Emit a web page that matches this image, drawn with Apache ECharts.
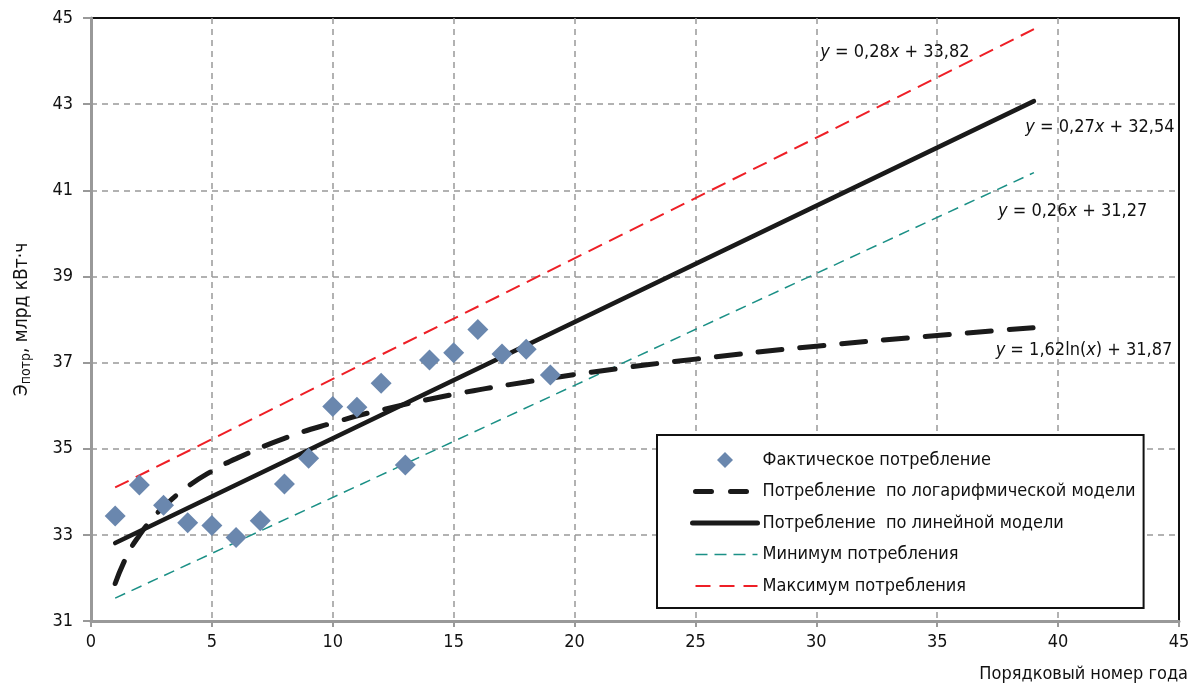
<!DOCTYPE html>
<html><head><meta charset="utf-8">
<script src="https://cdn.jsdelivr.net/npm/echarts@6/dist/echarts.min.js"></script>
<style>html,body{margin:0;padding:0;background:#fff}#c{width:1197px;height:688px}</style>
</head><body><div id="c"></div>
<script>
// Actual consumption (year number, value)
const years = [1,2,3,4,5,6,7,8,9,10,11,12,13,14,15,16,17,18,19];
const actual = [33.44,34.16,33.69,33.28,33.22,32.94,33.33,34.18,34.78,35.98,35.96,36.52,34.62,37.06,37.23,37.77,37.20,37.31,36.71];
// Log model curve points
const logX = [1,1.5,2,2.5,3,4,5,6,8,10,12,15,18,21,25,30,35,39];
const logY = [31.87,32.53,32.99,33.35,33.65,34.12,34.48,34.77,35.24,35.60,35.90,36.26,36.55,36.80,37.08,37.38,37.63,37.81];
// Linear trend end points
const linX = [1,39];
const linY = [32.81,43.07];
const minY = [31.53,41.41];
const maxY = [34.10,44.74];
// Axis ticks
const xTicks = [0,5,10,15,20,25,30,35,40,45];
const yTicks = [31,33,35,37,39,41,43,45];
const names = ['Фактическое потребление','Потребление  по логарифмической модели','Потребление  по линейной модели','Минимум потребления','Максимум потребления'];
// Equation annotations: [x, y] in data units, text
const eqPos = [[33.25,44.21],[41.73,42.47],[40.6,40.52],[41.07,37.29]];
const eqText = ['{i|y} = 0,28{i|x} + 33,82','{i|y} = 0,27{i|x} + 32,54','{i|y} = 0,26{i|x} + 31,27','{i|y} = 1,62ln({i|x}) + 31,87'];

const FONT = '"Liberation Sans Narrow","DejaVu Sans Condensed","Roboto",sans-serif';
const zip = (a,b)=>a.map((v,i)=>[v,b[i]]);

const C_MIN = '#1b9086', C_MAX = '#ee1f26', C_BLK = '#1a1a1a', C_PT = '#6a87ae';
const HIDE = {opacity:0, borderWidth:0};
const DIAMOND = 'path://M8,0L16,8L8,16L0,8Z';

const chart = echarts.init(document.getElementById('c'));
chart.setOption({
  animation:false,
  textStyle:{fontFamily:FONT},
  grid:{left:91, right:18, top:18, bottom:67, show:true, borderColor:'#111', borderWidth:2, backgroundColor:'transparent'},
  xAxis:{type:'value', min:xTicks[0], max:xTicks[xTicks.length-1], interval:5,
    axisLine:{show:true, onZero:false, lineStyle:{color:'#999', width:3}},
    axisTick:{show:true, length:6, lineStyle:{color:'#999', width:2}},
    axisLabel:{fontSize:18, color:'#111', margin:12, fontFamily:FONT},
    splitLine:{show:true, showMinLine:false, showMaxLine:false, lineStyle:{color:'#999', width:1.5, type:[6,5]}},
    name:'Порядковый номер года', nameLocation:'end', nameGap:9,
    nameTextStyle:{fontSize:18, color:'#111', align:'right', verticalAlign:'top', padding:[44,0,0,0], fontFamily:FONT}
  },
  yAxis:{type:'value', min:yTicks[0], max:yTicks[yTicks.length-1], interval:2,
    axisLine:{show:true, onZero:false, lineStyle:{color:'#999', width:3}},
    axisTick:{show:true, length:8, lineStyle:{color:'#999', width:2}},
    axisLabel:{fontSize:18, color:'#111', margin:18, fontFamily:FONT},
    splitLine:{show:true, showMinLine:false, showMaxLine:false, lineStyle:{color:'#999', width:1.5, type:[6,5]}},
    name:'{a|Э}{b|потр}{a|, млрд кВт·ч}', nameLocation:'middle', nameGap:58, nameRotate:90,
    nameTextStyle:{color:'#111', fontFamily:FONT, rich:{
      a:{fontSize:19, color:'#111', fontFamily:FONT},
      b:{fontSize:14, color:'#111', fontFamily:FONT, padding:[8,0,0,0]}}}
  },
  legend:{orient:'vertical', left:657, top:435, itemWidth:65, itemHeight:16, itemGap:13.5,
    symbolKeepAspect:true,
    padding:[16,8,13,33], borderColor:'#111', borderWidth:2, backgroundColor:'#fff',
    textStyle:{fontSize:18, color:'#111', fontFamily:FONT},
    data:[
      {name:names[0], icon:DIAMOND, symbolKeepAspect:true},
      {name:names[1], itemStyle:HIDE, lineStyle:{width:5, type:[16,19], cap:'round', dashOffset:-3}},
      {name:names[2], itemStyle:HIDE, lineStyle:{width:5, cap:'round'}},
      {name:names[3], itemStyle:HIDE, lineStyle:{width:1.5, type:[12,7]}},
      {name:names[4], itemStyle:HIDE, lineStyle:{width:2, type:[15,9]}}
    ]},
  series:[
    {name:names[3], type:'line', data:zip(linX,minY), symbol:'none', z:3,
      lineStyle:{color:C_MIN, width:1.5, type:[11,7]}, itemStyle:{color:C_MIN}},
    {name:names[4], type:'line', data:zip(linX,maxY), symbol:'none', z:3,
      lineStyle:{color:C_MAX, width:2, type:[15,8]}, itemStyle:{color:C_MAX}},
    {name:names[2], type:'line', data:zip(linX,linY), symbol:'none', z:4,
      lineStyle:{color:C_BLK, width:4.5, cap:'round'}, itemStyle:{color:C_BLK}},
    {name:names[1], type:'line', data:zip(logX,logY), symbol:'none', smooth:true, z:4,
      lineStyle:{color:C_BLK, width:5, type:[24,18], cap:'round'}, itemStyle:{color:C_BLK}},
    {name:names[0], type:'scatter', data:zip(years,actual), symbol:'diamond', symbolSize:21, z:5,
      itemStyle:{color:C_PT, opacity:1}}
  ]
});
chart.setOption({
  graphic: eqPos.map((p,i)=>{
    const px = chart.convertToPixel({gridIndex:0}, p);
    return {type:'text', x:px[0], y:px[1], z:10, silent:true,
      style:{text:eqText[i], align:'center', verticalAlign:'middle', fill:'#111',
        font:'18px '+FONT, fontSize:18, fontFamily:FONT,
        rich:{i:{fontStyle:'italic', fontSize:18, fontFamily:FONT, fill:'#111'}}}};
  })
});
</script></body></html>
